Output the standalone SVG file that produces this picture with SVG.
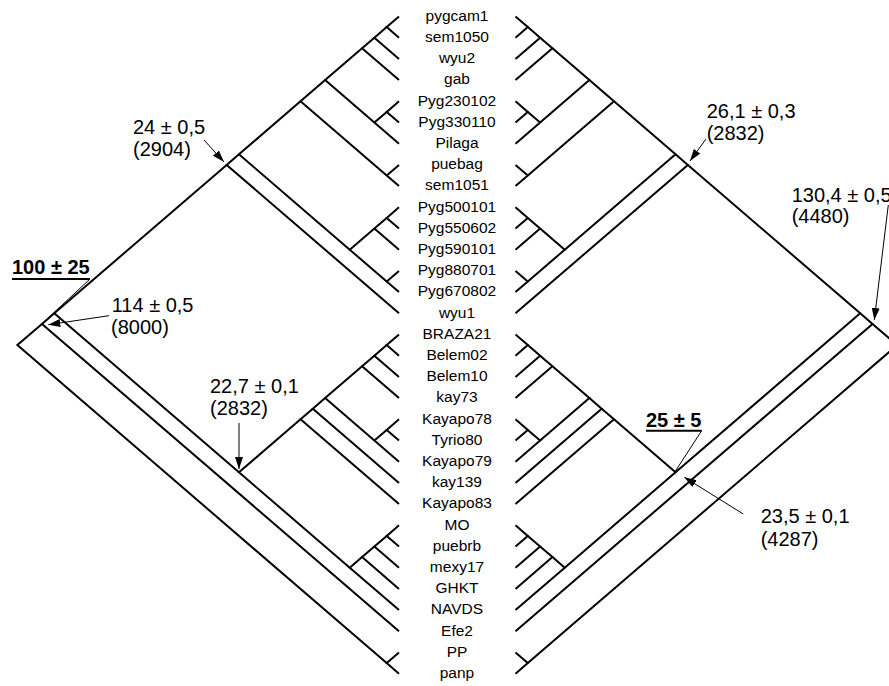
<svg xmlns="http://www.w3.org/2000/svg" width="889" height="686" viewBox="0 0 889 686">
<style>
.t{font-family:"Liberation Sans",Arial,sans-serif;font-size:15.5px;text-anchor:middle;fill:#000}
.a{font-family:"Liberation Sans",Arial,sans-serif;font-size:20px;fill:#000}
.b{font-weight:bold}
.br{fill:none;stroke:#000;stroke-width:2;stroke-linejoin:miter}
.ar{fill:none;stroke:#000;stroke-width:1}
.ul{stroke:#000;stroke-width:2}
</style>
<defs>
<marker id="ah" viewBox="0 0 12 8" refX="12" refY="4" markerWidth="12" markerHeight="8" orient="auto" markerUnits="userSpaceOnUse"><path d="M0,0 L12,4 L0,8 z" fill="#000"/></marker>
</defs>
<rect width="889" height="686" fill="#fff"/>
<g id="connectors">
<g id="left-tree" class="br">
<polyline points="399,16.5 386.69,27.1 399,37.7"/>
<polyline points="386.69,27.1 374.38,37.7 399,58.9"/>
<polyline points="374.38,37.7 362.07,48.3 399,80.1"/>
<polyline points="399,101.3 386.69,111.9 399,122.5"/>
<polyline points="386.69,111.9 374.38,122.5 399,143.7"/>
<polyline points="362.07,48.3 325.13,80.1 374.38,122.5"/>
<polyline points="399,164.9 386.69,175.5 399,186.1"/>
<polyline points="325.13,80.1 300.51,101.3 386.69,175.5"/>
<polyline points="399,207.3 386.69,217.9 399,228.5"/>
<polyline points="386.69,217.9 374.38,228.5 399,249.7"/>
<polyline points="399,270.9 386.69,281.5 399,292.1"/>
<polyline points="374.38,228.5 349.76,249.7 386.69,281.5"/>
<polyline points="300.51,101.3 238.96,154.3 349.76,249.7"/>
<polyline points="238.96,154.3 226.65,164.9 399,313.3"/>
<polyline points="399,334.5 386.69,345.1 399,355.7"/>
<polyline points="386.69,345.1 374.38,355.7 399,376.9"/>
<polyline points="374.38,355.7 362.07,366.3 399,398.1"/>
<polyline points="399,419.3 386.69,429.9 399,440.5"/>
<polyline points="386.69,429.9 374.38,440.5 399,461.7"/>
<polyline points="362.07,366.3 325.13,398.1 374.38,440.5"/>
<polyline points="325.13,398.1 312.82,408.7 399,482.9"/>
<polyline points="312.82,408.7 300.51,419.3 399,504.1"/>
<polyline points="399,525.3 386.69,535.9 399,546.5"/>
<polyline points="386.69,535.9 374.38,546.5 399,567.7"/>
<polyline points="374.38,546.5 362.07,557.1 399,588.9"/>
<polyline points="362.07,557.1 349.76,567.7 399,610.1"/>
<polyline points="300.51,419.3 238.96,472.3 349.76,567.7"/>
<polyline points="226.65,164.9 54.29,313.3 238.96,472.3"/>
<polyline points="54.29,313.3 41.98,323.9 399,631.3"/>
<polyline points="399,652.5 386.69,663.1 399,673.7"/>
<polyline points="41.98,323.9 17.36,345.1 386.69,663.1"/>
</g>
<g id="right-tree" class="br">
<polyline points="515.5,16.5 527.81,27.1 515.5,37.7"/>
<polyline points="527.81,27.1 540.12,37.7 515.5,58.9"/>
<polyline points="540.12,37.7 552.43,48.3 515.5,80.1"/>
<polyline points="515.5,101.3 527.81,111.9 515.5,122.5"/>
<polyline points="527.81,111.9 540.12,122.5 515.5,143.7"/>
<polyline points="552.43,48.3 589.37,80.1 540.12,122.5"/>
<polyline points="515.5,164.9 527.81,175.5 515.5,186.1"/>
<polyline points="589.37,80.1 613.99,101.3 527.81,175.5"/>
<polyline points="515.5,207.3 527.81,217.9 515.5,228.5"/>
<polyline points="527.81,217.9 540.12,228.5 515.5,249.7"/>
<polyline points="515.5,270.9 527.81,281.5 515.5,292.1"/>
<polyline points="540.12,228.5 564.74,249.7 527.81,281.5"/>
<polyline points="613.99,101.3 675.54,154.3 564.74,249.7"/>
<polyline points="675.54,154.3 687.85,164.9 515.5,313.3"/>
<polyline points="515.5,334.5 527.81,345.1 515.5,355.7"/>
<polyline points="527.81,345.1 540.12,355.7 515.5,376.9"/>
<polyline points="540.12,355.7 552.43,366.3 515.5,398.1"/>
<polyline points="515.5,419.3 527.81,429.9 515.5,440.5"/>
<polyline points="527.81,429.9 540.12,440.5 515.5,461.7"/>
<polyline points="552.43,366.3 589.37,398.1 540.12,440.5"/>
<polyline points="589.37,398.1 601.68,408.7 515.5,482.9"/>
<polyline points="601.68,408.7 613.99,419.3 515.5,504.1"/>
<polyline points="515.5,525.3 527.81,535.9 515.5,546.5"/>
<polyline points="527.81,535.9 540.12,546.5 515.5,567.7"/>
<polyline points="540.12,546.5 552.43,557.1 515.5,588.9"/>
<polyline points="552.43,557.1 564.74,567.7 515.5,610.1"/>
<polyline points="613.99,419.3 675.54,472.3 564.74,567.7"/>
<polyline points="687.85,164.9 860.21,313.3 675.54,472.3"/>
<polyline points="860.21,313.3 872.52,323.9 515.5,631.3"/>
<polyline points="515.5,652.5 527.81,663.1 515.5,673.7"/>
<polyline points="872.52,323.9 897.14,345.1 527.81,663.1"/>
</g>
<g id="annotation-arrows" class="ar">
<line x1="204" y1="140" x2="224" y2="162" marker-end="url(#ah)"/>
<line x1="90" y1="279" x2="41.7" y2="324"/>
<line x1="109" y1="315.7" x2="48.3" y2="324.7" marker-end="url(#ah)"/>
<line x1="239" y1="423" x2="239" y2="469" marker-end="url(#ah)"/>
<line x1="706" y1="139" x2="690" y2="161" marker-end="url(#ah)"/>
<line x1="888.3" y1="205" x2="874.3" y2="320" marker-end="url(#ah)"/>
<line x1="701.7" y1="430.7" x2="675" y2="471.7"/>
<line x1="743.3" y1="514" x2="684.3" y2="477.3" marker-end="url(#ah)"/>
</g>
</g>
<g id="taxa">
<g id="n-pygcam1"><text class="t" x="457" y="20.7">pygcam1</text></g>
<g id="n-sem1050"><text class="t" x="457" y="41.9">sem1050</text></g>
<g id="n-wyu2"><text class="t" x="457" y="63.1">wyu2</text></g>
<g id="n-gab"><text class="t" x="457" y="84.3">gab</text></g>
<g id="n-Pyg230102"><text class="t" x="457" y="105.5">Pyg230102</text></g>
<g id="n-Pyg330110"><text class="t" x="457" y="126.7">Pyg330110</text></g>
<g id="n-Pilaga"><text class="t" x="457" y="147.9">Pilaga</text></g>
<g id="n-puebag"><text class="t" x="457" y="169.1">puebag</text></g>
<g id="n-sem1051"><text class="t" x="457" y="190.3">sem1051</text></g>
<g id="n-Pyg500101"><text class="t" x="457" y="211.5">Pyg500101</text></g>
<g id="n-Pyg550602"><text class="t" x="457" y="232.7">Pyg550602</text></g>
<g id="n-Pyg590101"><text class="t" x="457" y="253.9">Pyg590101</text></g>
<g id="n-Pyg880701"><text class="t" x="457" y="275.1">Pyg880701</text></g>
<g id="n-Pyg670802"><text class="t" x="457" y="296.3">Pyg670802</text></g>
<g id="n-wyu1"><text class="t" x="457" y="317.5">wyu1</text></g>
<g id="n-BRAZA21"><text class="t" x="457" y="338.7">BRAZA21</text></g>
<g id="n-Belem02"><text class="t" x="457" y="359.9">Belem02</text></g>
<g id="n-Belem10"><text class="t" x="457" y="381.1">Belem10</text></g>
<g id="n-kay73"><text class="t" x="457" y="402.3">kay73</text></g>
<g id="n-Kayapo78"><text class="t" x="457" y="423.5">Kayapo78</text></g>
<g id="n-Tyrio80"><text class="t" x="457" y="444.7">Tyrio80</text></g>
<g id="n-Kayapo79"><text class="t" x="457" y="465.9">Kayapo79</text></g>
<g id="n-kay139"><text class="t" x="457" y="487.1">kay139</text></g>
<g id="n-Kayapo83"><text class="t" x="457" y="508.3">Kayapo83</text></g>
<g id="n-MO"><text class="t" x="457" y="529.5">MO</text></g>
<g id="n-puebrb"><text class="t" x="457" y="550.7">puebrb</text></g>
<g id="n-mexy17"><text class="t" x="457" y="571.9">mexy17</text></g>
<g id="n-GHKT"><text class="t" x="457" y="593.1">GHKT</text></g>
<g id="n-NAVDS"><text class="t" x="457" y="614.3">NAVDS</text></g>
<g id="n-Efe2"><text class="t" x="457" y="635.5">Efe2</text></g>
<g id="n-PP"><text class="t" x="457" y="656.7">PP</text></g>
<g id="n-panp"><text class="t" x="457" y="677.9">panp</text></g>
</g>
<g id="annotations">
<g id="ann-24"><text class="a" x="133" y="134">24 ± 0,5</text><text class="a" x="133" y="156">(2904)</text></g>
<g id="ann-100"><text class="a b" x="12" y="274">100 ± 25</text><line class="ul" x1="12" y1="279" x2="90" y2="279"/></g>
<g id="ann-114"><text class="a" x="111.7" y="311.7">114 ± 0,5</text><text class="a" x="111" y="333.5">(8000)</text></g>
<g id="ann-22"><text class="a" x="210" y="393.3">22,7 ± 0,1</text><text class="a" x="210" y="415">(2832)</text></g>
<g id="ann-26"><text class="a" x="706.7" y="118.3">26,1 ± 0,3</text><text class="a" x="706.7" y="140">(2832)</text></g>
<g id="ann-130"><text class="a" x="791.7" y="201.7">130,4 ± 0,5</text><text class="a" x="791.7" y="223.4">(4480)</text></g>
<g id="ann-25"><text class="a b" x="646" y="427">25 ± 5</text><line class="ul" x1="646" y1="430.7" x2="701.7" y2="430.7"/></g>
<g id="ann-23"><text class="a" x="760.7" y="523.3">23,5 ± 0,1</text><text class="a" x="760.7" y="545.5">(4287)</text></g>
</g>
</svg>
